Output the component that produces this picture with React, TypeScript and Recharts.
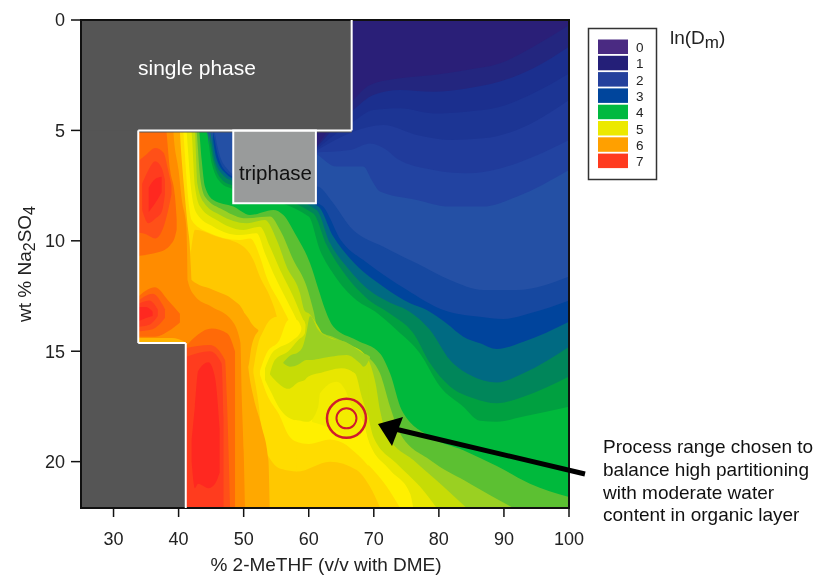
import React from "react";
import { ComposedChart, Area, XAxis, YAxis, ReferenceArea, ReferenceLine, ReferenceDot } from "recharts";

type Pt = number[];
const yBottom = 22.1;

const xTicks = [30, 40, 50, 60, 70, 80, 90, 100];
const yTicks = [0, 5, 10, 15, 20];

const legendLevels = ["0", "1", "2", "3", "4", "5", "6", "7"];
const legendColors = ["#4a2a82", "#241f78", "#24409c", "#00459c", "#00b93f", "#ece900", "#ffa000", "#ff3a1e"];

const bandA: Pt[] = [[25, 0], [100, 0]];
const bandB: Pt[] = [[61, 5.8], [66.86, 3.62], [69.42, 2.94], [74.03, 2.64], [79.15, 2.49], [84.27, 2.26], [89.4, 1.96], [94.52, 1.21], [100, 0.23]];
const bandC: Pt[] = [[61, 5.85], [66.86, 4.08], [69.93, 3.4], [74.03, 3.17], [79.15, 3.25], [84.27, 3.1], [89.4, 2.79], [94.52, 2.19], [100, 1.21]];
const bandD: Pt[] = [[61, 5.9], [66.86, 4.6], [69.93, 4.08], [74.03, 4], [79.15, 4.23], [84.27, 4.15], [89.4, 3.93], [94.52, 3.32], [100, 2.42]];
const bandE: Pt[] = [[61, 5.95], [66.86, 5.06], [71.47, 4.76], [76.59, 5.21], [81.71, 5.43], [86.84, 5.36], [91.96, 4.98], [100, 3.62]];
const bandF: Pt[] = [[61, 6], [66.34, 5.89], [69.42, 5.59], [71.98, 5.89], [73.52, 6.27], [79.15, 6.79], [84.27, 6.94], [89.4, 6.72], [94.52, 6.19], [100, 5.43]];
const bandF2: Pt[] = [[33, 0], [61, 6.02], [64.3, 6.64], [68.4, 6.64], [69.67, 7.25], [70.95, 7.77], [76.59, 8.15], [81.71, 8.45], [86.84, 8.45], [91.96, 8], [100, 6.79]];
const bandG: Pt[] = [[45.5, 5], [46.2, 6], [47.5, 6.75], [48.4, 7], [61.48, 7.55], [63.78, 8.3], [66.34, 9.36], [71.47, 10.27], [76.59, 11.02], [81.71, 11.78], [86.84, 12.23], [91.96, 12.23], [100, 11.62]];
const bandG2: Pt[] = [[45.3, 5], [46.1, 6.2], [47.6, 6.95], [48.4, 7.1], [62, 8.4], [65, 10], [69, 11], [75, 12.2], [80.7, 13.13], [86.3, 13.44], [89.9, 13.54], [94, 13.28], [100, 12.7]];
const bandH: Pt[] = [[45.1, 5], [45.85, 6.3], [47.4, 7], [48.4, 7.2], [61.48, 8.45], [63.78, 9.81], [66.34, 10.8], [71.47, 12.08], [75.57, 12.83], [78.13, 13.13], [81.2, 13.74], [83.76, 14.34], [86.32, 14.64], [88.9, 14.9], [93, 14.57], [100, 13.66]];
const bandI: Pt[] = [[44.85, 5], [45.6, 6.4], [47.1, 7.1], [48.4, 7.3], [61.2, 8.6], [63.27, 10.1], [65.83, 11.17], [69.93, 12.38], [72.5, 12.8], [75.05, 13.13], [78.64, 14.04], [81.71, 15.4], [84.79, 16.08], [88.9, 16.42], [93, 16], [100, 14.8]];
const bandJ: Pt[] = [[44.6, 5], [45.34, 6.4], [46.9, 7.3], [48.4, 7.5], [60.7, 8.76], [62.76, 10.2], [64.8, 11.2], [68.9, 12.6], [72.49, 13.3], [76.08, 14.19], [78.64, 15.55], [81.71, 16.6], [85.3, 17.13], [88.9, 17.36], [93, 17.06], [100, 16.15]];
const bandK: Pt[] = [[33, 0], [44.2, 4.8], [45.1, 6.5], [46.6, 7.4], [48.4, 7.65], [60, 8.9], [61.7, 10.4], [63.8, 11.5], [67.4, 12.7], [70.2, 13.2], [73.52, 14.04], [77.1, 15.1], [80.18, 16.6], [83.76, 17.51], [86.32, 18.15], [88.9, 18.19], [93, 17.96], [100, 17.51]];
const bandL: Pt[] = [[33, 0], [43, 4.5], [43.19, 5.06], [43.55, 6.34], [44.06, 7.55], [45.34, 8.15], [48.41, 8.45], [50.98, 8.83], [54.56, 8.6], [56.1, 8.83], [58.15, 9.81], [60.2, 11.02], [61.5, 12.2], [62.5, 13.1], [63.8, 13.89], [67.37, 14.5], [70.95, 15.1], [72.49, 16], [74.28, 17.66], [78.64, 18.87], [83.76, 19.48], [88.9, 20.2], [94, 21], [100, 21.6]];
const bandM: Pt[] = [[33, 0], [42.6, 4.5], [42.78, 5.06], [43.3, 7.1], [44.06, 8], [46.88, 8.6], [50.46, 8.98], [54.05, 8.9], [55.59, 9.51], [57.64, 10.87], [59.69, 12.08], [60.7, 13.13], [61.47, 14.04], [64.3, 14.42], [68.4, 15.1], [70.95, 16], [72.49, 17.5], [74.03, 18.72], [78.64, 19.93], [84.79, 21], [91.45, 22.1]];
const bandN: Pt[] = [[33, 0], [42.3, 4.5], [42.52, 5.06], [42.88, 7.4], [43.8, 8.23], [46.37, 8.83], [50.46, 9.2], [53.28, 9.06], [55.08, 9.96], [56.61, 11.17], [58.66, 12.38], [59.3, 13.13], [59.7, 13.25], [60.7, 13.55], [63.27, 14.6], [66.34, 14.75], [68.5, 15.1], [69.6, 15.7], [70.3, 16.5], [70.95, 17.66], [72.24, 18.87], [76.08, 19.93], [80.69, 21.13], [84.27, 22.1]];
const bandO: Pt[] = [[33, 0], [41.8, 4.5], [42, 5.06], [42.52, 7.55], [43.3, 8.45], [45.85, 9.06], [49.95, 9.51], [52.5, 9.36], [54.05, 10.27], [55.6, 11.32], [57.64, 12.53], [59.17, 13.59], [60.7, 14.5], [64, 15.7], [67.3, 16], [68.4, 16.9], [69.16, 17.97], [69.93, 18.87], [73.5, 20.08], [77.1, 21.13], [79.66, 22.1]];
const bandP: Pt[] = [[33, 0], [41.1, 4.5], [41.24, 5.06], [42, 7.85], [42.78, 8.76], [45.34, 9.36], [49.4, 9.74], [52, 9.66], [53.28, 10.57], [54.56, 11.47], [56.61, 12.68], [58.15, 13.59], [60, 15], [65, 17.5], [68.14, 17.97], [69.16, 19.03], [72.49, 20.38], [75.57, 21.44], [76.08, 22.1]];
const bandQ: Pt[] = [[33, 0], [40.6, 4.5], [40.73, 5.06], [41.5, 8.15], [42, 9.06], [44.3, 9.59], [49.4, 9.96], [51, 9.89], [52.5, 10.72], [53.5, 11.63], [55.6, 12.83], [56.9, 13.59], [60, 16], [63, 18.5], [65.83, 19.25], [68.4, 19.93], [71.98, 21.13], [74.03, 22.1]];
const bandR: Pt[] = [[41.9, 10.5], [42.52, 9.5], [45.85, 9.81], [49.95, 10.26], [51.49, 10.87], [52.5, 11.63], [54.05, 12.53], [55.1, 13.44], [58.15, 20.45], [63.27, 20], [67.37, 20.38], [69.4, 21.13], [71, 22.1]];
const blobQ2: Pt[] = [[51.5, 15.8, 16], [52.25, 14.64, 17.3], [53, 14.1, 19.17], [54, 13.6, 19.85], [55.07, 13.44, 20.23], [56, 14, 20.35], [58.15, 15, 20.45]];
const bandS: Pt[] = [[33, 0], [40.1, 4.5], [40.2, 5.06], [40.83, 7.55], [41.35, 9.2], [41.8, 10.5], [42, 11.78], [45.34, 12.23], [48.41, 12.68], [50, 13.2], [50.7, 15.7], [51.5, 17.06], [52.77, 18.42], [53.8, 19.93], [54, 22.1]];
const blobS2: Pt[] = [[49.9, 13.2, 15.5], [50.7, 13.5, 15.7], [51.2, 13.75, 14.8], [52.25, 14.04, 14.1]];
const bandT: Pt[] = [[33, 0], [39.1, 4.5], [39.2, 5.06], [40, 6.8], [40.5, 8.15], [41.2, 9.4], [41.3, 10.5], [41.4, 11.8], [42.5, 12.5], [45.08, 12.99], [48.16, 13.6], [49.5, 14.6], [49.7, 17], [50, 19.5], [50.2, 22.1]];
const stripS: Pt[] = [[33.5, 14.4, 14.7], [39, 14.4, 14.7], [40.8, 14.55, 14.7]];
const blobU1: Pt[] = [[33, 4, 10.7], [37.15, 4, 10.5], [37.9, 4.5, 10.4], [38.7, 6.8, 10.2], [39.45, 8, 9.8], [39.7, 9, 9.5]];
const blobV1: Pt[] = [[33, 6.6, 9.6], [35, 6.1, 9.7], [36.4, 5.8, 9.9], [37.66, 6, 9.4], [38.4, 6.8, 8.6], [38.9, 7.5, 7.9]];
const blobW1: Pt[] = [[34.4, 7.4, 8.6], [35.35, 6.8, 9.2], [36.4, 6.4, 9], [37.4, 6.7, 8.7], [37.9, 7.25, 7.9]];
const blobX1: Pt[] = [[35.4, 7.6, 8.7], [36.4, 7.2, 8.3], [37.4, 7.1, 7.8]];
const blobU2: Pt[] = [[33.5, 12.6, 14.35], [36.4, 12.1, 14.35], [38.4, 12.7, 14.1], [40.2, 13.3, 13.7]];
const blobV2: Pt[] = [[33.5, 12.8, 14.1], [36, 12.4, 14], [37.9, 13.1, 13.5]];
const blobW2: Pt[] = [[33.5, 12.9, 13.9], [35.5, 12.7, 13.8], [36.8, 13.1, 13.4]];
const blobX2: Pt[] = [[33.5, 13, 13.7], [35, 13, 13.5], [36, 13.2, 13.4]];
const blobU3: Pt[] = [[41, 14.8, 22.1], [45.08, 13.97, 22.1], [47.5, 14.2, 22.1], [48.67, 15, 22.1]];
const blobV3: Pt[] = [[41, 14.87, 22.1], [44.8, 14.72, 22.1], [47.13, 15.4, 22.1], [47.4, 17, 22.1], [47.9, 22, 22.1]];
const blobW3: Pt[] = [[41.2, 15.25, 22.1], [44.8, 15, 22.1], [46.6, 15.55, 22.1], [46.9, 18, 22.1]];
const blobX3: Pt[] = [[42, 19, 20], [42.5, 17.5, 21.2], [43, 15.9, 21], [44.6, 15.5, 21.2], [45.6, 16.2, 21], [46.3, 18.5, 20.5]];
const blobP2: Pt[] = [[52.5, 15.9, 16.05], [53.5, 15.1, 16.9], [55.5, 14.5, 17.9], [56.9, 13.59, 18.8], [58.15, 13.59, 19.1], [60, 14.9, 19.2], [63.27, 16, 19], [65.83, 17, 19.25], [68.14, 17.97, 19.85], [69.16, 19.03, 20.2]];
const blobOb: Pt[] = [[60.5, 16.5, 18.2], [64.3, 16.2, 18.6], [66, 16.5, 18.9], [68, 17, 18.8]];
const blobO2: Pt[] = [[53.28, 15.77, 16.3], [54.3, 15.1, 16.9], [55.33, 14.85, 17.5], [56.87, 14.64, 18], [57.6, 14.49, 18.1], [58.8, 14.1, 18.15], [59.17, 13.59, 18.18], [59.94, 14.2, 18.19], [61.48, 15, 17.5], [61.73, 15.2, 16.9], [64.3, 15.5, 16.38], [65.6, 15.6, 16.75], [66.6, 15.9, 17.5], [67.8, 16.3, 17.9], [68.6, 17, 18.4], [69.16, 17.97, 19.03]];
const blobN2: Pt[] = [[54.05, 16, 16.05], [54.8, 15.4, 16.3], [56.87, 15, 16.7], [58.4, 14.49, 16.4], [59.4, 14.2, 16.3], [59.7, 13.25, 16.2], [60.7, 13.55, 16.05], [61.5, 14.05, 16], [65.06, 14.6, 15.77], [67.1, 15, 16], [68.14, 15.2, 17.06], [69.16, 15.5, 17.97]];
const blobM2: Pt[] = [[56.1, 15.5, 15.55], [57.12, 15.2, 15.7], [58.4, 15.05, 15.6], [59.17, 14.72, 15.45], [59.68, 14.12, 15.4], [60.2, 13.4, 15.4], [61.47, 14.04, 15.35], [63.27, 14.4, 15.25], [65.83, 14.6, 15.17], [67.88, 15, 15.55], [68.4, 15.1, 15.7], [68.9, 15.15, 15.6], [69.42, 15.25, 15.3]];

const singlePhaseEdge: number[][] = [[66.6, 0], [66.6, 5], [33.8, 5], [33.8, 14.63], [41.1, 14.63], [41.1, yBottom]];
const annotationLines = ["Process range chosen to", "balance high partitioning", "with moderate water", "content in organic layer"];

const layers: [string, Pt[]][] = [
  ["#2a1f78", bandA], ["#23267f", bandB], ["#1b2f8e", bandC], ["#1c3594", bandD], ["#203b9b", bandE],
  ["#2243a1", bandF], ["#2450a5", bandF2], ["#1648a0", bandG], ["#00449c", bandG2], ["#006a82", bandH],
  ["#00865a", bandI], ["#00a040", bandJ], ["#00b93c", bandK], ["#5cc032", bandL], ["#9ad022", bandM],
  ["#c6dc06", bandN], ["#e8e600", bandO], ["#fff000", bandP], ["#ffdc00", bandQ], ["#ffc800", bandR],
  ["#ffdc00", blobQ2], ["#ffa800", bandS], ["#ffa800", blobS2], ["#ff8c00", bandT], ["#ffb400", stripS],
  ["#ff6a08", blobU1], ["#ff5018", blobV1], ["#ff3c1e", blobW1], ["#ff2820", blobX1],
  ["#ff6a08", blobU2], ["#ff5018", blobV2], ["#ff3c1e", blobW2], ["#ff2820", blobX2],
  ["#ff6a08", blobU3], ["#ff5018", blobV3], ["#ff3c1e", blobW3], ["#ff2820", blobX3],
  ["#fff000", blobP2], ["#f3ec00", blobOb], ["#e8e600", blobO2], ["#c6dc06", blobN2], ["#9ad022", blobM2],
];

const rows = (pts: Pt[]) =>
  pts.map((p) => ({ x: p[0], band: p.length === 3 ? [p[1], p[2]] : [p[1], yBottom] }));

const font = "'Liberation Sans', Arial, sans-serif";
const ink = "#222";

export default function App() {
  return (
    <div style={{ position: "absolute", left: 0, top: 0, width: 817, height: 575, filter: "blur(0.4px)" }}>
      <ComposedChart width={817} height={575} margin={{ top: 20, right: 248, bottom: 37, left: 21 }}>
        <XAxis
          type="number" dataKey="x" domain={[25, 100]} ticks={xTicks} allowDataOverflow
          height={30} tickSize={9} tickMargin={15}
          axisLine={false} tick={{ fontSize: 18, fontFamily: font, fill: ink }} tickLine={{ stroke: "#111", strokeWidth: 1.5 }}
        />
        <YAxis
          type="number" reversed domain={[0, yBottom]} ticks={yTicks} allowDataOverflow
          width={60} tickSize={10} tickMargin={6}
          axisLine={false} tick={{ fontSize: 18, fontFamily: font, fill: ink }} tickLine={{ stroke: "#111", strokeWidth: 1.5 }}
        />
        {layers.map(([color, pts], i) => (
          <Area
            key={i} data={rows(pts)} dataKey="band" type="monotone"
            fill={color} fillOpacity={1} stroke="none" isAnimationActive={false} dot={false} activeDot={false}
          />
        ))}
        <ReferenceArea x1={25} x2={66.6} y1={0} y2={5.1} fill="#555" fillOpacity={1} stroke="none" />
        <ReferenceArea x1={25} x2={33.8} y1={5} y2={14.7} fill="#555" fillOpacity={1} stroke="none" />
        <ReferenceArea x1={25} x2={41.1} y1={14.63} y2={yBottom} fill="#555" fillOpacity={1} stroke="none" />
        {singlePhaseEdge.slice(1).map((p, i) => (
          <ReferenceLine
            key={i} stroke="#fff" strokeWidth={2}
            segment={[{ x: singlePhaseEdge[i][0], y: singlePhaseEdge[i][1] }, { x: p[0], y: p[1] }]}
          />
        ))}
        <ReferenceArea x1={48.4} x2={61.1} y1={5} y2={8.3} fill="#999b9b" fillOpacity={1} stroke="#fff" strokeWidth={2} />
        <ReferenceDot x={65.8} y={18.04} r={19.5} fill="none" stroke="#cf1b2c" strokeWidth={2.5} />
        <ReferenceDot x={65.8} y={18.04} r={10} fill="none" stroke="#cf1b2c" strokeWidth={2} />
        <ReferenceArea x1={25} x2={100} y1={0} y2={yBottom} fill="none" stroke="#111" strokeWidth={2} />
      </ComposedChart>
      <svg width={817} height={575} style={{ position: "absolute", left: 0, top: 0, pointerEvents: "none" }}>
        <text x={138} y={75} fontFamily={font} fontSize={21} fill="#fff">single phase</text>
        <text x={239} y={180} fontFamily={font} fontSize={20.5} fill="#111">triphase</text>
        <line x1={585} y1={474} x2={395} y2={429} stroke="#000" strokeWidth={5} />
        <polygon points="378,424 403,417 392,446" fill="#000" />
        <text x={326} y={571} textAnchor="middle" fontFamily={font} fontSize={19} fill={ink}>% 2-MeTHF (v/v with DME)</text>
        <text transform="translate(31,264) rotate(-90)" textAnchor="middle" fontFamily={font} fontSize={19} fill={ink}>
          wt % Na<tspan dy={4} fontSize={16}>2</tspan><tspan dy={-4}>SO</tspan><tspan dy={4} fontSize={16}>4</tspan>
        </text>
        {annotationLines.map((t, i) => (
          <text key={t} x={603} y={453 + i * 22.8} fontFamily={font} fontSize={19} fill="#111">{t}</text>
        ))}
        <rect x={588.5} y={28.5} width={68} height={151} fill="#fff" stroke="#333" strokeWidth={1.5} />
        {legendLevels.map((lvl, i) => (
          <g key={lvl}>
            <rect x={598} y={39.5 + i * 16.3} width={30} height={14.5} fill={legendColors[i]} />
            <text x={636} y={52 + i * 16.3} fontFamily={font} fontSize={13.5} fill={ink}>{lvl}</text>
          </g>
        ))}
        <text x={670} y={44} fontFamily={font} fontSize={19} fill={ink}>
          ln(D<tspan dy={4} fontSize={17}>m</tspan><tspan dy={-4}>)</tspan>
        </text>
      </svg>
    </div>
  );
}
